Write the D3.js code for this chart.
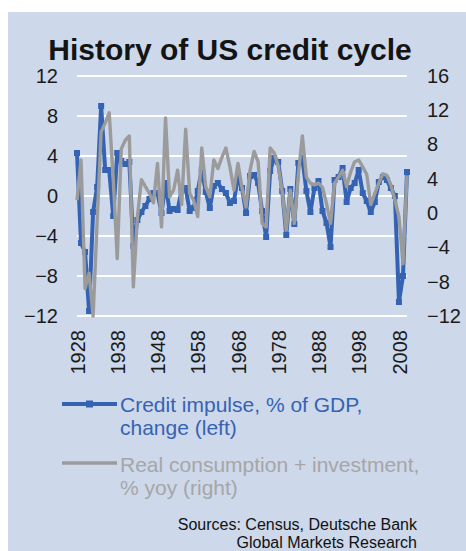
<!DOCTYPE html>
<html>
<head>
<meta charset="utf-8">
<script src="https://cdn.jsdelivr.net/npm/d3@7"></script>
<style>
  body { margin: 0; background: #fff; }
  svg { display: block; font-family: "Liberation Sans", Arial, sans-serif; }
</style>
</head>
<body>
<figure id="chart" style="margin:0"></figure>
<script>
// years 1928..2010
const years = d3.range(1928, 2011);

// Credit impulse, % of GDP, change (left axis)
const creditImpulse = [
  4.3, -4.7, -5.6, -11.5, -1.6, 0.9, 9.0, 2.6, 2.6, -2.0,
  4.3, 3.5, 3.2, 3.4, -5.0, -2.4, -1.6, -1.0, -0.3, 0.3,
  0.3, -1.7, 1.3, -1.5, -1.3, -1.4, 0.6, 0.8, -1.5, -1.2,
  0.5, 2.6, 0.4, -1.2, 1.0, 1.3, 0.7, 0.3, -0.7, -0.5,
  1.9, 0.8, -1.7, 2.0, 2.1, 1.3, -1.5, -4.1, 2.5, 3.8,
  3.4, 0.5, -3.9, 0.7, -2.8, 3.3, 3.8, 0.5, -1.6, 0.8,
  1.5, -1.5, -2.7, -5.1, 1.6, 1.9, 2.8, -0.6, 0.8, 1.3,
  2.6, 0.3, -0.5, -1.6, -0.6, 1.4, 1.9, 1.6, 0.8, 0.0,
  -10.6, -8.0, 2.4
];

// Real consumption + investment, % yoy (right axis)
const realCI = [
  1.5, 6.2, -8.8, -7.0, -12.0, -1.0, 9.5, 10.5, 11.7, 4.0,
  -5.3, 7.5, 8.5, 9.0, -8.6, -0.5, 3.9, 3.1, 2.3, 1.2,
  5.8, -1.6, 11.1, 1.9, 2.7, 5.0, 1.0, 9.8, 2.3, 1.5,
  -0.4, 7.6, 3.1, 1.9, 6.2, 5.2, 6.5, 7.6, 5.4, 2.7,
  5.8, 3.0, 0.7, 5.0, 7.2, 6.0, -1.2, -1.6, 7.6, 7.0,
  5.5, 2.5, -2.0, 2.7, -1.2, 4.5, 9.0, 4.2, 3.5, 3.3,
  3.5, 3.0, 1.1, -1.2, 3.5, 4.2, 5.0, 3.1, 4.8, 6.0,
  6.2, 5.4, 4.5, 1.0, 2.3, 3.5, 4.6, 4.4, 3.3, 1.5,
  -0.4, -5.9, 4.4
];

const leftTicks = [-12, -8, -4, 0, 4, 8, 12];
const rightTicks = [-12, -8, -4, 0, 4, 8, 12, 16];
const yearTicks = d3.range(1928, 2009, 10);

const width = 466, height = 551;
const blue = "#3563b3", grey = "#9b9b9b";

const svg = d3.select("#chart").append("svg")
  .attr("width", width)
  .attr("height", height);

svg.append("rect")
  .attr("x", 8).attr("y", 12)
  .attr("width", width - 8).attr("height", height - 12)
  .attr("fill", "#cdd8ea");

svg.append("text")
  .attr("x", 230).attr("y", 60)
  .attr("text-anchor", "middle")
  .style("font-size", "30px")
  .style("font-weight", "bold")
  .attr("fill", "#141414")
  .text("History of US credit cycle");

const x = d3.scaleLinear().domain([1928, 2010]).range([77, 407]);
const yL = d3.scaleLinear().domain([-12, 12]).range([316, 76]);
const yR = d3.scaleLinear().domain([-12, 16]).range([316, 76]);

// gridlines
svg.append("g")
  .selectAll("line")
  .data(leftTicks)
  .enter().append("line")
  .attr("x1", x.range()[0]).attr("x2", x.range()[1])
  .attr("y1", d => yL(d)).attr("y2", d => yL(d))
  .attr("stroke", "#fff")
  .attr("stroke-width", 2);

// axes
const axL = svg.append("g")
  .attr("transform", "translate(77,0)")
  .call(d3.axisLeft(yL).tickValues(leftTicks).tickSize(0).tickPadding(19));
const axR = svg.append("g")
  .attr("transform", "translate(407,0)")
  .call(d3.axisRight(yR).tickValues(rightTicks).tickSize(0).tickPadding(20));
const axB = svg.append("g")
  .attr("transform", "translate(0,316)")
  .call(d3.axisBottom(x).tickValues(yearTicks).tickFormat(d3.format("d")).tickSize(0));

[axL, axR, axB].forEach(a => {
  a.select(".domain").remove();
  a.selectAll("text")
    .style("font-size", "20px")
    .style("font-family", "'Liberation Sans', Arial, sans-serif")
    .attr("fill", "#1a1a1a");
});

axB.selectAll("text")
  .attr("transform", "rotate(-90)")
  .attr("x", -14)
  .attr("y", 0)
  .attr("dy", "0.36em")
  .attr("text-anchor", "end");

// series
const lineL = d3.line().x((d, i) => x(years[i])).y(d => yL(d));
const lineR = d3.line().x((d, i) => x(years[i])).y(d => yR(d));

svg.append("path")
  .datum(creditImpulse)
  .attr("d", lineL)
  .attr("fill", "none")
  .attr("stroke", blue)
  .attr("stroke-width", 4)
  .attr("stroke-linejoin", "round");

svg.append("g")
  .selectAll("rect")
  .data(creditImpulse)
  .enter().append("rect")
  .attr("x", (d, i) => x(years[i]) - 3)
  .attr("y", d => yL(d) - 3)
  .attr("width", 6).attr("height", 6)
  .attr("fill", blue);

svg.append("path")
  .datum(realCI)
  .attr("d", lineR)
  .attr("fill", "none")
  .attr("stroke", grey)
  .attr("stroke-width", 3.4)
  .attr("stroke-linejoin", "round");

// legend
const legend = svg.append("g");
legend.append("line")
  .attr("x1", 62).attr("x2", 117).attr("y1", 404).attr("y2", 404)
  .attr("stroke", blue).attr("stroke-width", 4);
legend.append("rect")
  .attr("x", 86).attr("y", 400.5).attr("width", 7).attr("height", 7)
  .attr("fill", blue);
legend.append("line")
  .attr("x1", 62).attr("x2", 117).attr("y1", 463).attr("y2", 463)
  .attr("stroke", grey).attr("stroke-width", 3.4);

const legText = [
  { t: "Credit impulse, % of GDP,", y: 412, c: blue },
  { t: "change (left)", y: 435, c: blue },
  { t: "Real consumption + investment,", y: 472, c: "#a6a6a6" },
  { t: "% yoy (right)", y: 495, c: "#a6a6a6" }
];
legend.selectAll("text")
  .data(legText)
  .enter().append("text")
  .attr("x", 120).attr("y", d => d.y)
  .attr("fill", d => d.c)
  .style("font-size", "21px")
  .text(d => d.t);

// sources
svg.append("g")
  .selectAll("text")
  .data(["Sources: Census, Deutsche Bank", "Global Markets Research"])
  .enter().append("text")
  .attr("x", 417)
  .attr("y", (d, i) => 530 + i * 18)
  .attr("text-anchor", "end")
  .style("font-size", "16px")
  .attr("fill", "#111")
  .text(d => d);
</script>
</body>
</html>
